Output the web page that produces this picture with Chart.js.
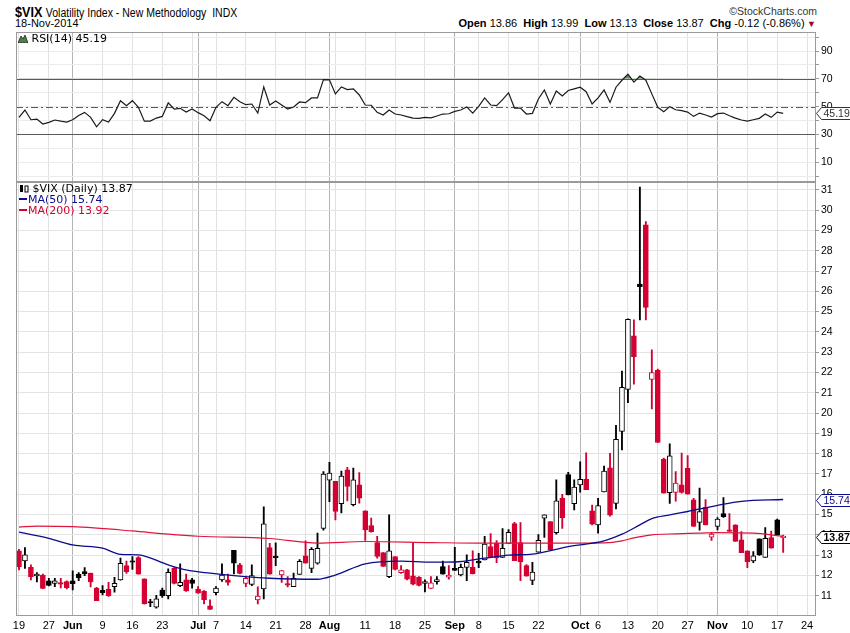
<!DOCTYPE html>
<html><head><meta charset="utf-8">
<script src="https://cdn.jsdelivr.net/npm/chart.js@4.4.1/dist/chart.umd.min.js"></script>
<style>
html,body{margin:0;padding:0;background:#fff;width:850px;height:633px;overflow:hidden;}
#wrap{position:relative;width:850px;height:633px;}
#c{position:absolute;left:0;top:24px;width:850px;height:609px;}
.t{position:absolute;white-space:nowrap;color:#000;line-height:1;}
.sq{display:inline-block;transform:scaleX(0.84);transform-origin:left center;}
.sw{display:inline-block;width:8px;height:2px;vertical-align:middle;margin-right:1px;position:relative;top:-1px;}
</style></head><body><div id="wrap">
<div class="t sq" style="left:15px;top:3px;font:bold 15px 'Liberation Sans',Arial,sans-serif;">$VIX <span style="font-weight:normal;font-size:12.5px;">Volatility Index - New Methodology&nbsp; INDX</span></div>
<div class="t" style="left:15px;top:17px;font:11px 'Liberation Sans',Arial,sans-serif;">18-Nov-2014</div>
<div class="t" style="right:33px;top:5px;font:10.5px 'Liberation Sans',Arial,sans-serif;color:#333;">©StockCharts.com</div>
<div class="t" style="right:34px;top:17px;font:11px 'Liberation Sans',Arial,sans-serif;"><b>Open</b> 13.86 &nbsp;<b>High</b> 13.99 &nbsp;<b>Low</b> 13.13 &nbsp;<b>Close</b> 13.87 &nbsp;<b>Chg</b> -0.12 (-0.86%)<span style="color:#a0002a;font-size:9px;"> ▼</span></div>
<canvas id="c" width="850" height="609"></canvas>
<div class="t" style="left:18px;top:32px;font:11px 'DejaVu Sans',Verdana,sans-serif;"><svg width="10" height="9" style="vertical-align:-1px"><path d="M0 9 L3 2 L5 5 L7 1 L10 9 Z" fill="#4f7f4f" stroke="#222" stroke-width="0.8"/></svg> RSI(14) 45.19</div>
<div class="t" style="left:19px;top:182px;font:11px 'DejaVu Sans',Verdana,sans-serif;"><svg width="10" height="9" style="vertical-align:-1px"><rect x="1" y="1" width="3" height="7" fill="#000"/><rect x="6" y="2" width="3" height="6" fill="none" stroke="#000" stroke-width="1"/></svg> $VIX (Daily) 13.87</div>
<div class="t" style="left:19px;top:193px;font:11px 'DejaVu Sans',Verdana,sans-serif;color:#0b0b8c;"><span class="sw" style="background:#0b0b8c"></span>MA(50) 15.74</div>
<div class="t" style="left:19px;top:204px;font:11px 'DejaVu Sans',Verdana,sans-serif;color:#d40032;"><span class="sw" style="background:#d40032"></span>MA(200) 13.92</div>
</div>
<script>
// ---- categories (trading days, plus a few future sessions on the right) ----
const dates = ['5/19','5/20','5/21','5/22','5/23','5/27','5/28','5/29','5/30',
'6/2','6/3','6/4','6/5','6/6','6/9','6/10','6/11','6/12','6/13','6/16','6/17','6/18','6/19','6/20','6/23','6/24','6/25','6/26','6/27','6/30',
'7/1','7/2','7/3','7/7','7/8','7/9','7/10','7/11','7/14','7/15','7/16','7/17','7/18','7/21','7/22','7/23','7/24','7/25','7/28','7/29','7/30','7/31',
'8/1','8/4','8/5','8/6','8/7','8/8','8/11','8/12','8/13','8/14','8/15','8/18','8/19','8/20','8/21','8/22','8/25','8/26','8/27','8/28','8/29',
'9/2','9/3','9/4','9/5','9/8','9/9','9/10','9/11','9/12','9/15','9/16','9/17','9/18','9/19','9/22','9/23','9/24','9/25','9/26','9/29','9/30',
'10/1','10/2','10/3','10/6','10/7','10/8','10/9','10/10','10/13','10/14','10/15','10/16','10/17','10/20','10/21','10/22','10/23','10/24','10/27','10/28','10/29','10/30','10/31',
'11/3','11/4','11/5','11/6','11/7','11/10','11/11','11/12','11/13','11/14','11/17','11/18','11/19','11/20','11/21','11/24','11/25'];

// ---- tick labels ----
const tickDates = ['5/19','5/27','6/2','6/9','6/16','6/23','7/1','7/7','7/14','7/21','7/28','8/1','8/11','8/18','8/25','9/2','9/8','9/15','9/22','10/1','10/6','10/13','10/20','10/27','11/3','11/10','11/17','11/24'];
const tickTexts = ['19','27','Jun','9','16','23','Jul','7','14','21','28','Aug','11','18','25','Sep','8','15','22','Oct','6','13','20','27','Nov','10','17','24'];
const monthDates = ['6/2','7/1','8/1','9/2','10/1','11/3'];
const weekGridDates = ['5/19','5/27','6/2','6/9','6/16','6/23','6/30','7/7','7/14','7/21','7/28','8/4','8/11','8/18','8/25','9/2','9/8','9/15','9/22','9/29','10/6','10/13','10/20','10/27','11/3','11/10','11/17','11/24'];
const priceTicks = [11,12,13,14,15,16,17,18,19,20,21,22,23,24,25,26,27,28,29,30,31];
const rsiGridTicks = [0,10,20,30,40,50,60,70,80,90,100];
const rsiLabelTicks = [10,30,50,70,90];
const rsiBands = [30,70];

// ---- OHLC ----
const opens = [13.21,12.71,12.40,11.97,12.02,11.73,11.61,11.62,11.69,
11.73,12.07,12.19,12.12,11.38,11.27,11.33,11.45,11.78,12.49,12.70,12.88,11.83,10.66,10.43,11.28,11.00,12.35,11.50,11.78,11.78,
11.33,11.23,10.50,11.15,11.78,11.78,13.23,12.52,11.61,11.56,10.79,11.33,13.37,12.93,12.02,11.60,11.45,12.05,12.96,12.35,12.60,14.31,
16.69,16.64,15.53,17.20,15.48,16.46,15.18,14.46,13.62,13.13,11.94,12.93,12.14,12.27,11.98,11.91,11.61,11.36,11.69,12.43,11.91,
12.35,12.02,12.40,12.40,12.71,12.76,13.42,13.58,12.89,13.58,14.55,13.62,12.48,11.75,13.14,14.82,14.65,14.11,15.80,16.97,15.53,
16.46,16.74,15.18,14.49,16.12,17.30,15.55,19.10,21.17,23.80,26.35,29.27,21.66,22.12,17.73,16.08,16.09,16.46,17.29,15.72,14.61,15.35,13.88,
14.42,15.05,14.19,14.49,13.75,13.21,12.71,13.80,12.89,13.86,14.74,13.86];
const highs = [13.29,13.37,12.52,12.14,12.07,11.86,11.86,11.86,11.73,
12.22,12.14,12.38,12.12,11.41,11.50,11.66,11.91,12.85,12.71,12.93,12.93,11.83,10.82,11.02,11.37,12.32,12.38,12.57,12.07,11.86,
11.45,11.25,10.80,11.45,12.57,12.07,13.23,12.60,11.97,12.52,11.44,15.38,13.58,13.61,12.24,11.94,12.11,12.78,13.70,13.37,14.08,17.12,
17.57,16.64,17.14,17.32,17.29,17.07,15.18,14.82,13.92,13.13,14.99,12.93,12.48,12.30,13.62,11.94,11.78,11.94,11.94,12.71,12.48,
13.38,12.56,13.01,13.21,13.09,13.93,14.06,13.72,14.31,14.26,14.62,14.60,12.53,12.65,14.01,14.98,14.65,16.71,16.00,17.08,16.71,
17.60,18.04,15.46,15.80,17.39,18.01,19.39,22.07,24.64,24.59,31.13,29.44,23.11,22.17,17.78,18.49,17.12,18.03,17.90,15.80,16.30,15.74,14.12,
14.85,15.84,15.05,14.49,14.16,13.21,13.17,13.80,14.36,14.19,14.77,13.99];
const lows = [12.27,12.35,11.78,11.68,11.35,11.48,11.45,11.38,11.34,
11.28,11.74,11.99,11.43,10.76,11.04,10.97,11.17,11.76,12.10,12.29,12.06,10.58,10.46,10.38,10.92,10.84,11.58,11.45,11.21,11.37,
11.12,10.60,10.32,11.04,11.70,11.52,12.07,12.07,11.44,11.50,10.59,10.84,12.06,12.48,11.66,11.43,11.45,12.05,12.60,12.14,12.55,14.23,
15.64,14.74,15.08,15.67,15.43,15.56,13.72,14.13,12.85,12.44,11.89,12.27,12.10,11.78,11.53,11.48,11.19,11.36,11.57,12.06,11.82,
12.24,11.97,11.74,12.07,12.38,12.76,12.88,12.63,12.89,13.58,12.73,11.74,11.96,11.55,13.14,13.87,13.24,14.03,14.32,15.97,15.23,
16.10,16.22,14.49,14.08,16.12,14.92,15.28,18.19,20.51,21.43,24.59,24.59,20.20,18.55,16.05,15.55,15.66,16.05,16.00,14.41,14.23,14.49,13.72,
14.24,14.86,14.17,13.67,13.12,12.38,12.63,12.98,12.89,13.34,14.00,13.13];
const closes = [12.43,13.01,11.94,12.07,11.36,11.51,11.73,11.57,11.40,
11.59,11.89,12.07,11.68,10.76,11.15,11.00,11.61,12.60,12.19,12.65,12.06,10.61,10.64,10.85,11.00,12.15,11.61,11.66,11.24,11.61,
11.12,10.80,10.32,11.37,12.02,11.65,12.60,12.10,11.86,11.99,10.98,14.54,12.06,12.88,12.24,11.52,11.86,12.69,12.60,13.29,13.34,16.99,
17.04,15.15,16.89,16.38,16.71,15.81,14.24,14.16,12.93,12.44,13.21,12.30,12.27,11.81,11.57,11.51,11.69,11.64,11.80,12.06,12.02,
12.24,12.40,12.64,12.07,12.62,13.55,12.88,12.86,13.34,14.12,12.73,12.66,11.96,12.16,13.73,14.98,13.27,15.67,14.85,15.97,16.35,
16.74,16.22,14.52,15.44,17.14,14.97,18.70,21.27,24.62,22.78,26.23,25.20,22.00,18.55,16.05,17.89,16.55,16.09,16.00,14.41,15.15,14.49,14.04,
14.77,14.89,14.17,13.67,13.12,12.68,12.96,13.01,13.83,13.34,14.00,13.87];

// ---- moving averages (read at selected sessions) ----
const ma50Dates = ['5/19','5/27','6/2','6/9','6/12','6/17','6/24','6/27','7/3','7/10','7/18','7/30','8/4','8/11','8/19','8/26','9/2','9/9','9/15','9/19','9/29','10/7','10/10','10/15','10/17','10/22','10/27','11/3','11/7','11/18'];
const ma50Values = [14.13,13.83,13.50,13.34,13.04,13.01,12.52,12.27,12.11,11.99,11.86,11.81,12.02,12.57,12.70,12.65,12.66,12.85,13.00,13.05,13.42,13.70,14.03,14.49,14.80,14.98,15.15,15.45,15.65,15.74];
const ma200Dates = ['5/19','5/22','6/2','6/16','6/24','7/1','7/18','7/30','8/11','8/26','9/9','9/30','10/7','10/10','10/14','10/17','10/23','10/29','11/3','11/11','11/14','11/18'];
const ma200Values = [14.38,14.43,14.40,14.19,14.03,13.93,13.82,13.59,13.67,13.62,13.59,13.59,13.60,13.70,13.85,14.00,14.05,14.08,14.11,14.08,14.00,13.92];

// ---- RSI(14) ----
const rsi = [42.3,47.6,40.6,41.1,37.5,38.7,40.4,39.6,38.9,
40.6,43.7,45.9,42.3,35.5,40.6,38.9,45.2,54.3,50.7,54.3,49.5,39.6,39.6,41.8,43.0,52.7,48.3,48.8,46.1,48.3,
45.7,43.5,39.9,49.5,53.6,50.7,56.7,53.6,51.4,51.9,45.4,64.2,51.2,54.1,51.2,48.3,49.8,53.4,52.9,56.3,56.3,69.5,
69.3,59.2,64.2,62.3,62.8,58.4,51.2,51.0,45.9,44.0,47.6,44.7,44.0,42.8,41.8,41.6,42.3,42.0,43.3,44.7,44.9,
46.6,47.6,49.8,45.4,50.2,56.3,51.2,50.7,55.1,59.9,49.0,49.0,44.7,45.2,55.5,62.0,51.9,61.3,57.7,61.6,62.8,
64.0,60.8,51.9,56.3,62.0,53.1,64.0,69.0,73.4,67.6,72.0,69.0,59.2,49.5,46.4,50.0,47.8,47.1,46.1,43.0,45.4,44.0,42.5,
45.0,45.4,43.5,41.8,40.4,39.6,40.6,41.6,44.7,42.3,46.1,45.19];

// ---- styling helpers ----
const RED = '#d40032', BLACK = '#000000';
const candleColor = closes.map((c, i) => (c < (i ? closes[i-1] : opens[i]) ? RED : BLACK));
const bodyFill = closes.map((c, i) => (c >= opens[i] ? '#ffffff' : candleColor[i]));
const tickMap = {}; tickDates.forEach((d, i) => tickMap[d] = tickTexts[i]);
const AX_FONT = "'Liberation Sans', Arial, sans-serif";

const panelsPlugin = {
  id: 'panels',
  beforeDatasetsDraw(chart) {
    const {ctx, chartArea: a, scales} = chart;
    const yr = scales.yr;
    ctx.save();
    ctx.strokeStyle = '#5a5a5a'; ctx.lineWidth = 1;
    rsiBands.forEach(v => {
      const py = Math.round(yr.getPixelForValue(v)) + 0.5;
      ctx.beginPath(); ctx.moveTo(a.left, py); ctx.lineTo(a.right, py); ctx.stroke();
    });
    ctx.setLineDash([7, 3, 2, 3]);
    const pm = Math.round(yr.getPixelForValue(50)) + 0.5;
    ctx.beginPath(); ctx.moveTo(a.left, pm); ctx.lineTo(a.right, pm); ctx.stroke();
    ctx.restore();
  },
  afterDraw(chart) {
    const {ctx, chartArea: a, scales} = chart;
    const yr = scales.yr, y = scales.y;
    ctx.save();
    ctx.strokeStyle = '#9a9a9a'; ctx.lineWidth = 1;
    ctx.strokeRect(Math.round(a.left) + 0.5, Math.round(yr.top) + 0.5, Math.round(a.right - a.left) - 1, Math.round(yr.bottom - yr.top));
    ctx.strokeRect(Math.round(a.left) + 0.5, Math.round(y.top) + 0.5, Math.round(a.right - a.left) - 1, Math.round(y.bottom - y.top) - 1);
    const tag = (py, text, color, bold) => {
      ctx.font = (bold ? 'bold ' : '') + '10.5px ' + AX_FONT;
      const w = Math.ceil(ctx.measureText(text).width) + 5, h = 12;
      const x0 = Math.round(a.right) + 0.5, yy = Math.round(py) + 0.5;
      ctx.beginPath();
      ctx.moveTo(x0, yy); ctx.lineTo(x0 + 5, yy - h / 2); ctx.lineTo(x0 + 5 + w, yy - h / 2);
      ctx.lineTo(x0 + 5 + w, yy + h / 2); ctx.lineTo(x0 + 5, yy + h / 2); ctx.closePath();
      ctx.fillStyle = '#fff'; ctx.fill();
      ctx.strokeStyle = color; ctx.lineWidth = 1; ctx.stroke();
      ctx.fillStyle = color; ctx.textBaseline = 'middle'; ctx.textAlign = 'left';
      ctx.fillText(text, x0 + 7, yy + 0.5);
    };
    tag(yr.getPixelForValue(rsi[rsi.length - 1]), rsi[rsi.length - 1].toFixed(2), '#333', false);
    tag(y.getPixelForValue(ma50Values[ma50Values.length - 1]), ma50Values[ma50Values.length - 1].toFixed(2), '#0b0b8c', false);
    tag(y.getPixelForValue(closes[closes.length - 1]), closes[closes.length - 1].toFixed(2), '#000', true);
    ctx.restore();
  }
};

new Chart(document.getElementById('c'), {
  type: 'bar',
  data: {
    labels: dates,
    datasets: [
      { type: 'line', label: 'MA(50)', yAxisID: 'y', order: 1,
        data: ma50Dates.map((d, i) => ({x: d, y: ma50Values[i]})),
        borderColor: '#0b0b8c', borderWidth: 1.3, pointRadius: 0, cubicInterpolationMode: 'monotone', fill: false },
      { type: 'line', label: 'MA(200)', yAxisID: 'y', order: 1,
        data: ma200Dates.map((d, i) => ({x: d, y: ma200Values[i]})),
        borderColor: '#e0143c', borderWidth: 1.2, pointRadius: 0, cubicInterpolationMode: 'monotone', fill: false },
      { type: 'bar', label: 'body', yAxisID: 'y', order: 2, grouped: false,
        data: opens.map((o, i) => [o, closes[i]]),
        backgroundColor: bodyFill, borderColor: candleColor, borderWidth: 1, borderSkipped: false,
        barThickness: 5, minBarLength: 1.5 },
      { type: 'bar', label: 'wick', yAxisID: 'y', order: 3, grouped: false,
        data: lows.map((l, i) => [l, highs[i]]),
        backgroundColor: candleColor, borderWidth: 0, barThickness: 1.2, minBarLength: 1 },
      { type: 'line', label: 'RSI(14)', yAxisID: 'yr', order: 1,
        data: rsi, borderColor: '#1a1a1a', borderWidth: 1.2, pointRadius: 0, tension: 0,
        fill: {target: {value: 70}, above: 'rgba(86,130,86,0.9)', below: 'rgba(0,0,0,0)'} }
    ]
  },
  options: {
    responsive: false, animation: false, devicePixelRatio: 1,
    layout: {padding: {left: 16, top: 8, right: 0, bottom: 0}},
    plugins: {legend: {display: false}, tooltip: {enabled: false}},
    scales: {
      x: {
        type: 'category', offset: true,
        grid: {
          offset: false, drawTicks: false, lineWidth: 1,
          color: (c) => { const d = dates[c.index]; if (monthDates.includes(d)) return '#b4b4b4'; if (weekGridDates.includes(d)) return '#e2e2e2'; return 'rgba(0,0,0,0)'; }
        },
        border: {display: false},
        ticks: {
          autoSkip: false, maxRotation: 0, minRotation: 0, padding: 3, color: '#000',
          callback: (v, i) => tickMap[dates[i]] || '',
          font: (c) => ({family: AX_FONT, size: 11, weight: monthDates.includes(dates[c.index]) ? 'bold' : 'normal'})
        },
        afterFit: (s) => { s.height = 17; }
      },
      yr: {
        type: 'linear', position: 'right', stack: 'panels', stackWeight: 149.5, weight: 1,
        min: -4, max: 103.5,
        afterBuildTicks: (s) => { s.ticks = rsiGridTicks.map(v => ({value: v})); },
        grid: {color: '#ececec', tickLength: 3, tickColor: '#9a9a9a'},
        border: {display: false},
        ticks: {autoSkip: false, padding: 2, color: '#000', font: {family: AX_FONT, size: 10.5},
          callback: (v) => rsiLabelTicks.includes(v) ? String(v) : ''},
        afterFit: (s) => { s.width = 34; }
      },
      y: {
        type: 'linear', position: 'right', stack: 'panels', stackWeight: 434.5, weight: 2,
        min: 10, max: 31.4,
        afterBuildTicks: (s) => { s.ticks = priceTicks.map(v => ({value: v})); },
        grid: {color: '#e4e4e4', tickLength: 3, tickColor: '#9a9a9a'},
        border: {display: false},
        ticks: {autoSkip: false, padding: 2, color: '#000', font: {family: AX_FONT, size: 10.5}, callback: (v) => String(v)},
        afterFit: (s) => { s.width = 34; }
      }
    }
  },
  plugins: [panelsPlugin]
});
</script>
</body></html>
